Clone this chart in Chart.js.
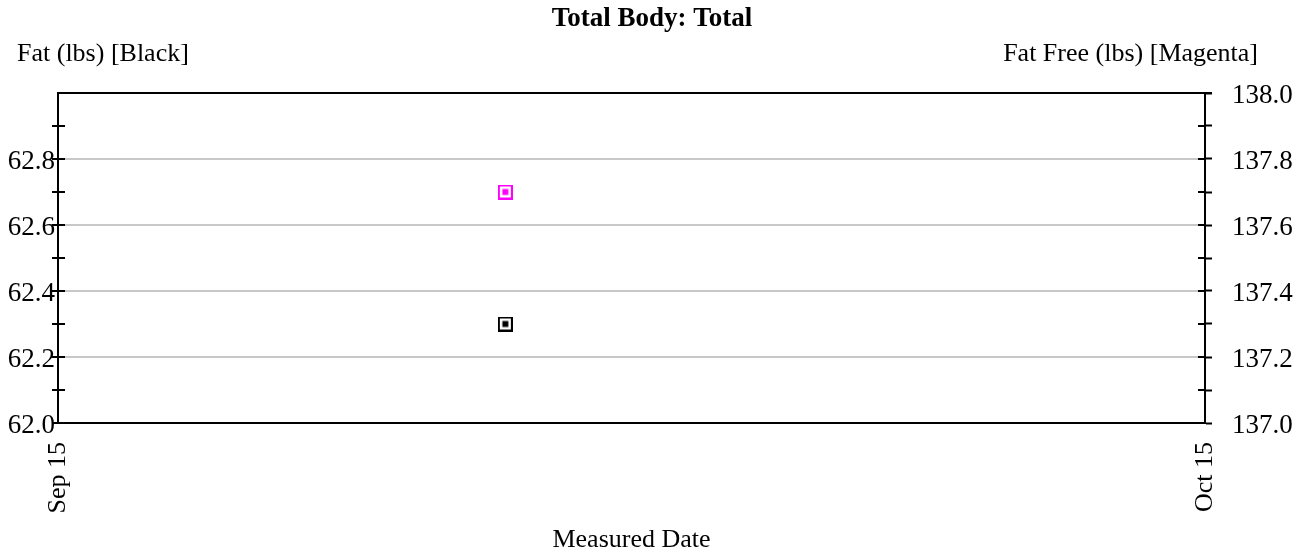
<!DOCTYPE html>
<html>
<head>
<meta charset="utf-8">
<script src="https://cdn.jsdelivr.net/npm/chart.js@4"></script>
<style>
  html, body { margin: 0; padding: 0; background: #fff; }
  #wrap { width: 1304px; height: 557px; }
</style>
</head>
<body>
<div id="wrap"><canvas id="chart"></canvas></div>
<script>
// data
const dateTicks = ['Sep 15', 'Oct 15'];   // x axis end labels
const dateTickDays = [0, 30];             // days from Sep 15
const measureDays = [11.7];
const fatLbs = [62.3];
const fatFreeLbs = [137.7];
const fatRange = [62.0, 63.0];
const fatFreeRange = [137.0, 138.0];

const serif = "'Liberation Serif', 'Times New Roman', serif";

// square marker with a white gap and a filled centre
function marker(color) {
    const c = document.createElement('canvas');
    c.width = 15; c.height = 15;
    const g = c.getContext('2d');
    g.fillStyle = '#fff';
    g.fillRect(0, 0, 15, 15);
    g.strokeStyle = color;
    g.lineWidth = 2;
    g.strokeRect(1, 1, 13, 13);
    g.fillStyle = color;
    g.fillRect(4.5, 4.5, 6, 6);
    return c;
}

const tenths = v => Math.round(v * 10);

const textPlugin = {
    id: 'texts',
    afterDraw(chart) {
        const ctx = chart.ctx;
        const area = chart.chartArea;
        ctx.save();
        ctx.fillStyle = '#000';
        ctx.textBaseline = 'middle';
        ctx.font = 'bold 27px ' + serif;
        ctx.textAlign = 'center';
        ctx.fillText('Total Body: Total', chart.width / 2, 19);
        ctx.font = '26px ' + serif;
        ctx.textAlign = 'left';
        ctx.fillText('Fat (lbs) [Black]', 17, 54);
        ctx.textAlign = 'right';
        ctx.fillText('Fat Free (lbs) [Magenta]', 1258, 54);

        // top frame line
        ctx.strokeStyle = '#000';
        ctx.lineWidth = 2;
        ctx.beginPath();
        ctx.moveTo(area.left - 1, area.top);
        ctx.lineTo(area.right + 7, area.top);
        ctx.stroke();

        // inner halves of the y ticks, and the y labels
        ctx.font = '27px ' + serif;
        ['y', 'y1'].forEach(id => {
            const s = chart.scales[id];
            const left = id === 'y';
            const x = left ? area.left : area.right;
            const d = left ? 7 : -7;
            const top = left ? fatRange[1] : null;
            s.ticks.forEach(t => {
                const py = Math.round(s.getPixelForValue(t.value));
                ctx.beginPath();
                ctx.moveTo(x, py);
                ctx.lineTo(x + d, py);
                ctx.stroke();
                const k = tenths(t.value);
                if (k % 2 !== 0 || (top !== null && k === tenths(top))) return;
                ctx.textAlign = left ? 'right' : 'left';
                ctx.fillText(t.value.toFixed(1), left ? x - 3 : x + 27, py + 3);
            });
        });
        ctx.restore();
    }
};

new Chart(document.getElementById('chart'), {
    type: 'scatter',
    data: {
        datasets: [{
            label: 'Fat',
            data: measureDays.map((d, i) => ({ x: d, y: fatLbs[i] })),
            yAxisID: 'y',
            pointStyle: marker('#000000'),
            pointRadius: 7
        }, {
            label: 'Fat Free',
            data: measureDays.map((d, i) => ({ x: d, y: fatFreeLbs[i] })),
            yAxisID: 'y1',
            pointStyle: marker('#ff00ff'),
            pointRadius: 7
        }]
    },
    plugins: [textPlugin],
    options: {
        responsive: true,
        maintainAspectRatio: false,
        animation: false,
        layout: { padding: { top: 93, left: 0, right: 0, bottom: 0 } },
        plugins: {
            legend: { display: false },
            tooltip: { enabled: false },
            title: { display: false }
        },
        scales: {
            x: {
                type: 'linear',
                min: dateTickDays[0],
                max: dateTickDays[dateTickDays.length - 1],
                afterBuildTicks: s => { s.ticks = dateTickDays.map(v => ({ value: v })); },
                afterFit: s => { s.height = 134; },
                grid: { display: false },
                border: { display: true, color: '#000', width: 2 },
                ticks: {
                    minRotation: 90,
                    maxRotation: 90,
                    padding: 11,
                    autoSkip: false,
                    color: '#000',
                    font: { family: serif, size: 26 },
                    callback: v => dateTicks[dateTickDays.indexOf(v)]
                },
                title: {
                    display: true,
                    text: 'Measured Date',
                    color: '#000',
                    font: { family: serif, size: 26 },
                    padding: { top: 0, bottom: 1 }
                }
            },
            y: {
                position: 'left',
                min: fatRange[0],
                max: fatRange[1],
                afterFit: s => { s.width = 58; },
                border: { display: true, color: '#000', width: 2 },
                grid: {
                    color: c => {
                        const t = tenths(c.tick.value);
                        if (t === tenths(fatRange[0]) || t === tenths(fatRange[1])) return 'rgba(0,0,0,0)';
                        return t % 2 === 0 ? '#c8c8c8' : 'rgba(0,0,0,0)';
                    },
                    lineWidth: 2,
                    tickColor: c => tenths(c.tick.value) === tenths(fatRange[1]) ? 'rgba(0,0,0,0)' : '#000',
                    tickWidth: 2,
                    tickLength: 6
                },
                ticks: {
                    stepSize: 0.1,
                    autoSkip: false,
                    color: 'rgba(0,0,0,0)',
                    font: { family: serif, size: 27 }
                }
            },
            y1: {
                position: 'right',
                min: fatFreeRange[0],
                max: fatFreeRange[1],
                afterFit: s => { s.width = 99; },
                border: { display: true, color: '#000', width: 2 },
                grid: {
                    drawOnChartArea: false,
                    color: '#000',
                    tickColor: '#000',
                    tickWidth: 2,
                    tickLength: 7
                },
                ticks: {
                    stepSize: 0.1,
                    autoSkip: false,
                    color: 'rgba(0,0,0,0)',
                    font: { family: serif, size: 27 }
                }
            }
        }
    }
});
</script>
</body>
</html>
